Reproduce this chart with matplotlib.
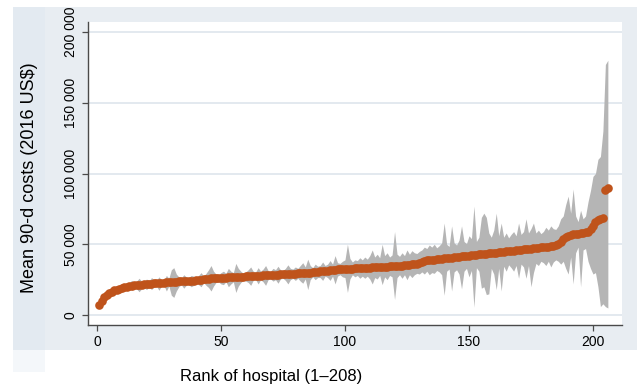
import matplotlib
matplotlib.use("Agg")
import matplotlib.pyplot as plt
from matplotlib.patches import Rectangle

plt.rcParams['font.family'] = ['Liberation Sans', 'DejaVu Sans']

# Mean 90-day costs by hospital rank (thousands of 2016 US$)
mean_k = [
    7.0, 10.0, 12.5, 14.3, 15.6, 16.6, 17.4, 18.0, 18.6, 19.1,
    19.6, 20.0, 20.4, 20.7, 21.0, 21.2, 21.4, 21.6, 21.8, 22.0,
    22.1, 22.3, 22.4, 22.6, 22.7, 22.9, 23.0, 23.1, 23.3, 23.4,
    23.5, 23.7, 23.8, 23.9, 24.0, 24.1, 24.2, 24.3, 24.4, 24.5,
    24.7, 25.0, 25.3, 25.5, 25.7, 25.9, 26.0, 26.1, 26.2, 26.3,
    26.4, 26.5, 26.6, 26.7, 26.8, 26.9, 27.0, 27.1, 27.2, 27.3,
    27.4, 27.5, 27.6, 27.7, 27.8, 27.9, 28.0, 28.1, 28.2, 28.3,
    28.4, 28.5, 28.6, 28.7, 28.8, 28.9, 29.0, 29.1, 29.2, 29.3,
    29.4, 29.5, 29.6, 29.7, 29.8, 30.0, 30.2, 30.4, 30.6, 30.8,
    31.0, 31.2, 31.4, 31.6, 31.8, 32.0, 32.2, 32.4, 32.5, 32.6,
    32.7, 32.8, 32.9, 33.0, 33.1, 33.2, 33.3, 33.4, 33.5, 33.6,
    33.7, 33.8, 33.9, 34.0, 34.1, 34.2, 34.3, 34.4, 34.5, 34.6,
    34.7, 34.8, 35.0, 35.2, 35.4, 35.6, 35.8, 36.0, 36.4, 37.0,
    37.8, 38.3, 38.6, 38.8, 39.0, 39.2, 39.4, 39.6, 39.8, 40.0,
    40.2, 40.4, 40.6, 40.8, 41.0, 41.2, 41.4, 41.6, 41.8, 42.0,
    42.2, 42.4, 42.6, 42.8, 43.0, 43.2, 43.4, 43.6, 43.8, 44.0,
    44.2, 44.4, 44.6, 44.8, 45.0, 45.2, 45.4, 45.6, 45.8, 46.0,
    46.2, 46.4, 46.6, 46.8, 47.0, 47.2, 47.4, 47.6, 47.8, 48.0,
    48.2, 48.4, 48.6, 48.9, 49.3, 50.0, 51.5, 53.5, 55.0, 56.0,
    56.5, 57.0, 57.3, 57.6, 57.9, 58.2, 58.5, 59.0, 60.5, 63.0,
    65.5, 67.0, 68.0, 68.5, 88.0, 90.0,
]

upper_k = [
    8.5, 12.0, 16.0, 17.5, 18.5, 19.0, 20.0, 20.5, 20.8, 21.5,
    22.0, 22.5, 23.0, 24.5, 23.0, 24.0, 26.0, 24.0, 23.5, 25.5,
    24.0, 26.5, 25.0, 24.5, 27.0, 25.0, 24.5, 28.0, 26.0, 32.0,
    33.5, 29.0, 27.0, 26.0, 28.5, 27.0, 26.5, 28.0, 27.5, 26.5,
    28.0, 30.0, 27.5, 29.5, 32.0, 35.0, 31.0, 29.0, 28.5, 30.0,
    31.0, 29.5, 33.0, 31.0, 30.0, 36.5, 33.0, 31.0, 29.5, 30.5,
    32.0, 34.0, 31.0, 30.5, 33.5, 31.0, 32.5, 35.0, 31.5, 31.0,
    33.0, 32.0, 34.5, 32.0, 31.5, 33.0, 35.5, 33.0, 32.5, 34.0,
    33.0, 35.0, 37.0, 34.0, 39.5, 35.0, 33.5, 36.0, 34.5, 35.0,
    37.5, 35.0, 36.0, 38.5, 36.0, 42.0, 37.0, 36.5, 38.0, 39.0,
    50.0, 40.0, 37.5, 39.0, 38.5, 40.5, 39.0, 41.0, 39.5, 42.0,
    46.0, 41.0, 43.0, 40.5, 50.0, 42.0, 44.0, 41.0, 42.5, 59.0,
    43.0, 41.5, 44.0, 42.0, 46.0, 43.0, 45.5, 44.0, 43.5, 45.0,
    46.0, 48.0, 47.0, 49.5, 48.0, 50.0, 47.5, 49.0, 51.0, 65.0,
    50.0, 48.5, 63.0, 51.0, 49.5, 53.0, 63.0, 52.0, 50.5, 56.0,
    54.0, 77.0, 52.0, 55.0, 69.0, 72.0, 69.0, 58.0, 55.0, 60.0,
    72.0, 56.0, 65.0, 55.0, 58.0, 54.5, 57.0, 59.0, 56.0, 65.0,
    57.0, 59.0, 68.0, 58.0, 61.0, 65.0, 58.0, 60.0, 57.5, 59.0,
    62.0, 60.0, 63.0, 61.0, 60.5, 63.0, 68.0, 70.0, 78.0, 84.0,
    72.0, 89.0, 70.0, 66.0, 74.0, 68.0, 70.0, 80.0, 88.0, 98.0,
    100.0, 110.0, 112.0, 130.0, 177.0, 180.0,
]

lower_k = [
    5.8, 8.5, 10.0, 12.0, 13.5, 14.5, 15.5, 15.8, 16.5, 17.0,
    17.5, 18.0, 18.5, 17.5, 19.0, 18.5, 16.5, 18.5, 19.5, 18.0,
    20.0, 18.0, 20.0, 20.5, 17.5, 20.5, 21.0, 17.0, 20.5, 14.0,
    12.5, 17.0, 20.0, 21.5, 19.0, 21.0, 21.5, 20.0, 21.0, 22.5,
    21.5, 20.0, 23.0, 21.0, 19.5, 17.0, 20.5, 23.0, 23.5, 22.0,
    21.5, 23.5, 20.0, 22.0, 23.5, 16.0, 20.5, 23.0, 24.5, 24.0,
    23.0, 21.0, 24.5, 25.0, 22.0, 25.0, 23.5, 21.0, 25.0, 25.5,
    24.0, 25.0, 22.5, 25.5, 26.0, 24.5, 22.0, 25.0, 26.0, 24.5,
    26.0, 24.0, 22.5, 25.5, 18.0, 25.0, 27.0, 25.0, 26.5, 26.5,
    24.5, 27.5, 26.5, 24.5, 27.5, 22.0, 27.5, 28.5, 27.0, 26.5,
    16.0, 25.5, 28.5, 27.0, 28.0, 26.0, 27.5, 26.0, 27.5, 25.5,
    22.0, 26.5, 25.5, 28.0, 21.5, 27.0, 25.0, 28.0, 27.0, 11.0,
    26.5, 28.5, 26.0, 28.5, 25.0, 28.5, 26.5, 28.5, 29.5, 29.0,
    30.5, 29.0, 31.0, 28.5, 30.0, 29.5, 31.5, 30.5, 28.5, 14.0,
    31.0, 32.5, 17.0, 30.5, 32.0, 29.0, 18.5, 31.0, 33.0, 27.0,
    31.5, 5.6, 33.5, 31.0, 19.0, 20.0, 14.5, 15.0, 33.0, 29.0,
    18.0, 33.0, 17.0, 34.5, 31.0, 35.5, 33.5, 31.0, 35.0, 26.0,
    36.0, 34.0, 26.0, 35.0, 20.0, 30.0, 36.5, 35.0, 38.0, 37.0,
    35.0, 38.0, 34.0, 37.5, 39.0, 38.0, 36.0, 38.0, 33.0, 29.0,
    41.0, 22.0, 44.0, 48.0, 20.0, 46.0, 47.0, 38.0, 33.0, 29.0,
    30.0, 20.0, 6.0, 8.0, 6.0, 5.0,
]

ranks = list(range(1, len(mean_k) + 1))

y_ticks = [0, 50, 100, 150, 200]
y_tick_labels = ["0", "50 000", "100 000", "150 000", "200 000"]
x_ticks = [0, 50, 100, 150, 200]
x_tick_labels = ["0", "50", "100", "150", "200"]

W, H = 637, 387
fig = plt.figure(figsize=(W / 100, H / 100), dpi=100)
fig.patch.set_facecolor("white")

# background panels (Stata-like)
fig.patches.append(Rectangle((13 / W, 1 - 350 / H), 1 - 13 / W, (350 - 7) / H,
                             transform=fig.transFigure, facecolor="#e8edf2",
                             edgecolor="none", zorder=-2))
fig.patches.append(Rectangle((13 / W, 1 - 350 / H), (45 - 13) / W, (350 - 7) / H,
                             transform=fig.transFigure, facecolor="#e3eaf1",
                             edgecolor="none", zorder=-1))
fig.patches.append(Rectangle((13 / W, 1 - 372 / H), (45 - 13) / W, (372 - 350) / H,
                             transform=fig.transFigure, facecolor="#f4f7fa",
                             edgecolor="none", zorder=-1))

ax = fig.add_axes([88 / W, 1 - 325 / H, (622 - 88) / W, (325 - 22) / H])
ax.set_zorder(2)
ax.set_facecolor("white")

ax.fill_between(ranks, lower_k, upper_k, color="#b5b5b5", linewidth=0, zorder=2)
ax.plot(ranks, mean_k, linestyle="none", marker="o", markersize=6.2,
        color="#bf531b", markeredgewidth=0, zorder=3)

ax.set_xlim(-3.6, 211.7)
ax.set_ylim(-7.0, 207.0)

ax.set_yticks(y_ticks)
ax.set_yticklabels(y_tick_labels, rotation=90, va="center", fontsize=10)
ax.set_xticks(x_ticks)
ax.set_xticklabels(x_tick_labels, fontsize=10)

for y in y_ticks:
    ax.axhline(y, color="#e3e9ef", linewidth=1.4, zorder=1)

for s in ["top", "right"]:
    ax.spines[s].set_visible(False)
for s in ["left", "bottom"]:
    ax.spines[s].set_color("#4a4a4a")
    ax.spines[s].set_linewidth(1.0)
ax.tick_params(axis="both", direction="out", length=4.5, width=0.9,
               color="#4a4a4a", pad=3, labelcolor="black")

fig.text(30 / W, 1 - 178 / H, "Mean 90-d costs (2016 US$)", rotation=90,
         ha="center", va="center", fontsize=13)
fig.text(271 / W, 1 - 376 / H, "Rank of hospital (1\u2013208)",
         ha="center", va="center", fontsize=12)

fig.savefig("out.png", dpi=100)
